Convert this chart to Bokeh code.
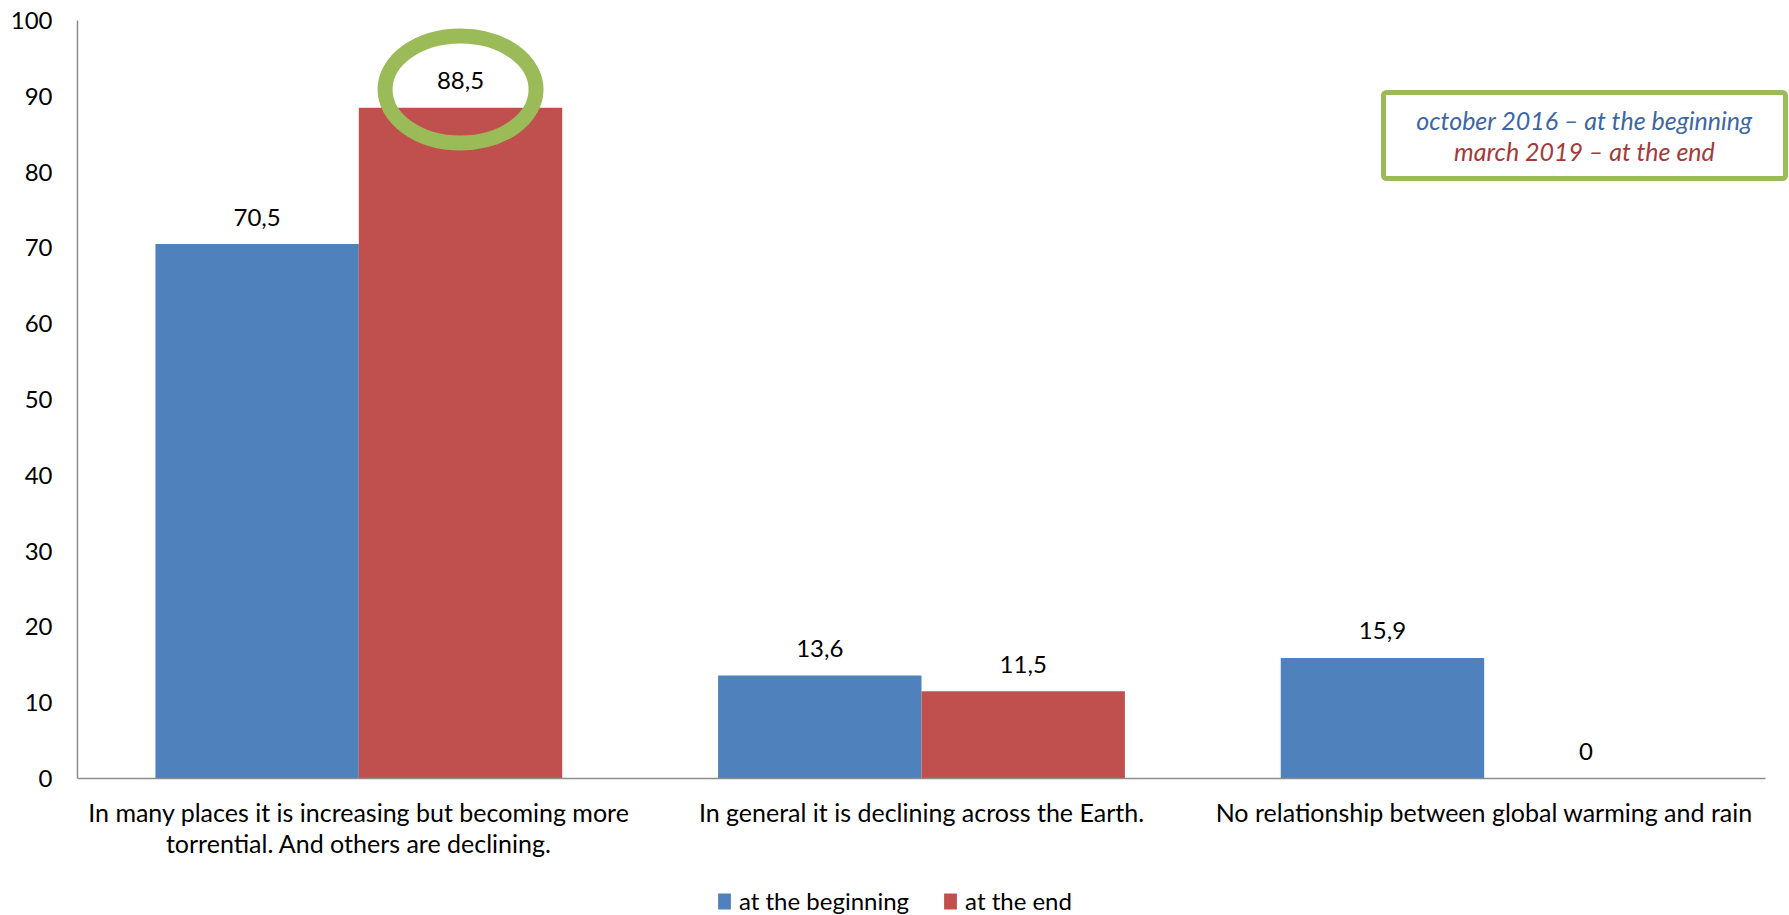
from bokeh.plotting import figure
from bokeh.models import (Range1d, FixedTicker, Legend, LegendItem, Label,
                          BoxAnnotation, ColumnDataSource)
from bokeh.core.properties import value
from bokeh.embed import file_html
from bokeh.resources import INLINE

# ---- data ----
categories = [
    "In many places it is increasing but becoming more\ntorrential. And others are declining.",
    "In general it is declining across the Earth.",
    "No relationship between global warming and rain",
]
beginning = [70.5, 13.6, 15.9]
end = [88.5, 11.5, 0]
series_names = ["at the beginning", "at the end"]
y_ticks = [0, 10, 20, 30, 40, 50, 60, 70, 80, 90, 100]
note_lines = ["october 2016 \u2013 at the beginning", "march 2019 \u2013 at the end"]

BLUE = "#4F81BD"
RED = "#C0504D"
GREEN = "#9BBB59"
AXIS_GREY = "#8C8C8C"
FONT = "Lato"
FS = "24px"

def fmt(v):
    return ("%g" % v).replace(".", ",")

n = len(categories)
bar_w = 0.3615
centers = [i + 0.5 for i in range(n)]
src_b = ColumnDataSource(dict(x=[c - bar_w / 2 for c in centers], top=beginning,
                              lab=[fmt(v) for v in beginning]))
src_e = ColumnDataSource(dict(x=[c + bar_w / 2 for c in centers], top=end,
                              lab=[fmt(v) for v in end]))
src_c = ColumnDataSource(dict(x=centers, y=[0] * n, text=categories))

# The frame covers the canvas down to the bottom and across to the right edge,
# so that category labels, legend and note box are drawn inside it.
W, H = 1789, 915
LEFT, TOP, AXIS_RIGHT, BASE = 77, 20, 1765, 778
x_end = n * (W - LEFT) / (AXIS_RIGHT - LEFT)
y_start = -100 * (H - BASE) / (BASE - TOP)

p = figure(width=W, height=H, x_range=Range1d(0, x_end), y_range=Range1d(y_start, 100),
           output_backend="svg", toolbar_location=None, x_axis_location=None,
           min_border_left=LEFT, min_border_right=0, min_border_top=TOP, min_border_bottom=0)
p.outline_line_color = None
p.xgrid.grid_line_color = None
p.ygrid.grid_line_color = None

rb = p.vbar(x="x", top="top", width=bar_w, source=src_b, fill_color=BLUE, line_color=None)
re_ = p.vbar(x="x", top="top", width=bar_w, source=src_e, fill_color=RED, line_color=None)

# category (x) axis baseline and labels
p.segment(x0=[0], y0=[0], x1=[n], y1=[0], line_color=AXIS_GREY, line_width=1.5)
p.text(x="x", y="y", text="text", source=src_c, y_offset=18, text_align="center",
       text_baseline="top", text_font=value(FONT), text_font_size="25px",
       text_line_height=1.05, text_color="#000000")

for s in (src_b, src_e):
    p.text(x="x", y="top", text="lab", source=s, y_offset=-27, text_align="center",
           text_baseline="middle", text_font=value(FONT), text_font_size=FS, text_color="#000000")

# highlight ring round the largest "end" value
p.ellipse(x=[centers[0] + bar_w / 2], y=[end[0] + 2.4], width=151, height=107,
          width_units="screen", height_units="screen", fill_color=None,
          line_color=GREEN, line_width=15)

# y axis
p.yaxis.bounds = (0, 100)
p.yaxis.ticker = FixedTicker(ticks=y_ticks)
p.yaxis.major_tick_line_color = None
p.yaxis.minor_tick_line_color = None
p.yaxis.major_tick_out = 0
p.yaxis.major_label_standoff = 25
p.yaxis.axis_line_color = AXIS_GREY
p.yaxis.axis_line_width = 1.5
p.yaxis.major_label_text_font = FONT
p.yaxis.major_label_text_font_size = FS
p.yaxis.major_label_text_color = "#000000"

# legend
legend = Legend(items=[LegendItem(label=series_names[0], renderers=[rb]),
                       LegendItem(label=series_names[1], renderers=[re_])],
                orientation="horizontal", location=(639, 0),
                glyph_width=16, glyph_height=20, label_standoff=7, spacing=33,
                padding=0, margin=0, border_line_color=None, background_fill_alpha=0,
                label_text_font=FONT, label_text_font_size=FS, label_text_color="#000000")
p.add_layout(legend, "center")

# note box (screen units, measured from the frame's bottom-left)
box = BoxAnnotation(left=1306, right=1708, top=823, bottom=737,
                    left_units="screen", right_units="screen", top_units="screen", bottom_units="screen",
                    fill_color="#FFFFFF", fill_alpha=1, line_color=GREEN, line_width=5, line_alpha=1,
                    border_radius=3)
p.add_layout(box)
p.add_layout(Label(x=1507, y=796, x_units="screen", y_units="screen", text=note_lines[0],
                   text_align="center", text_baseline="middle", text_font=FONT,
                   text_font_style="italic", text_font_size="25px", text_color="#3D67A3"))
p.add_layout(Label(x=1507, y=765, x_units="screen", y_units="screen", text=note_lines[1],
                   text_align="center", text_baseline="middle", text_font=FONT,
                   text_font_style="italic", text_font_size="25px", text_color="#A33B38"))

open("out.html", "w").write(file_html(p, INLINE))
